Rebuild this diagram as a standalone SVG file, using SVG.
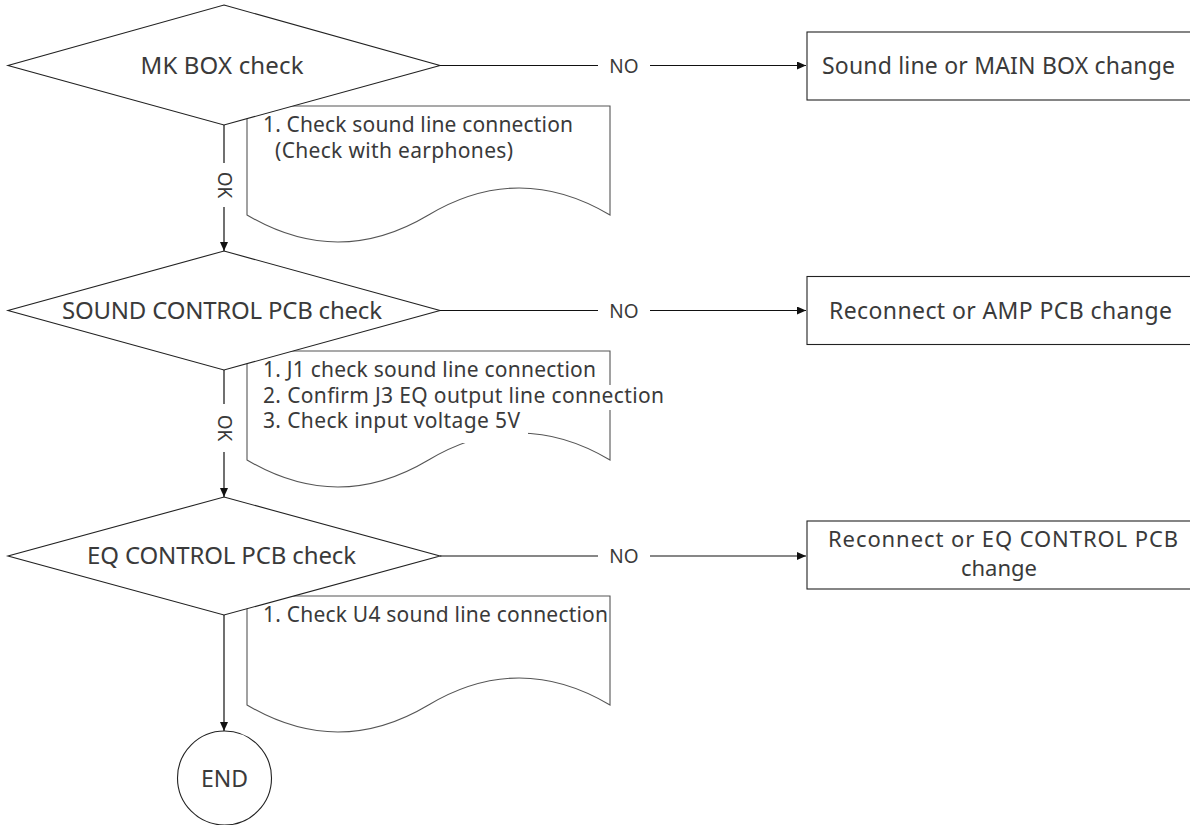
<svg xmlns="http://www.w3.org/2000/svg" width="1190" height="825" viewBox="0 0 1190 825">
<defs>
<marker id="arr" markerUnits="userSpaceOnUse" markerWidth="9" markerHeight="8" refX="9" refY="4" orient="auto">
<path d="M0,0 L9,4 L0,8 Z" fill="#111"/>
</marker>
<style>
.sh{fill:#fff;stroke:#222;stroke-width:1.1}
.doc{fill:#fff;stroke:#555;stroke-width:1.1}
.ln{fill:none;stroke:#111;stroke-width:1.2}
.bg{fill:#fff;stroke:none}
text{font-family:"Noto Sans","Open Sans",sans-serif;fill:#3a3a3a}
.dt{font-size:24px;text-anchor:middle}
.nt{font-size:21px}
.bt{font-size:23px;text-anchor:middle}
.lb{font-size:19px;text-anchor:middle}
</style>
</defs>

<g id="note1">
<path class="doc" d="M247,106 H610 V215 Q519,161 428.5,215 Q338,269 247,215 Z"/>
<text class="nt" x="263" y="132" textLength="310" lengthAdjust="spacing">1. Check sound line connection</text>
<text class="nt" x="275" y="157.5" textLength="238" lengthAdjust="spacing">(Check with earphones)</text>
</g>

<g id="note2">
<path class="doc" d="M247,351 H610 V460 Q519,406 428.5,460 Q338,514 247,460 Z"/>
<rect class="bg" x="262" y="385" width="404" height="25"/>
<rect class="bg" x="262" y="411" width="266" height="32"/>
<text class="nt" x="263" y="377" textLength="333" lengthAdjust="spacing">1. J1 check sound line connection</text>
<text class="nt" x="263" y="402.5" textLength="401" lengthAdjust="spacing">2. Confirm J3 EQ output line connection</text>
<text class="nt" x="263" y="428" textLength="257" lengthAdjust="spacing">3. Check input voltage 5V</text>
</g>

<g id="note3">
<path class="doc" d="M247,596 H610 V705 Q519,651 428.5,705 Q338,759 247,705 Z"/>
<text class="nt" x="263" y="622" textLength="345" lengthAdjust="spacing">1. Check U4 sound line connection</text>
</g>

<g id="mkbox">
<polygon class="sh" points="224,5 440,65.5 224,125 8,65.5"/>
<text class="dt" x="222" y="74" textLength="163" lengthAdjust="spacing">MK BOX check</text>
</g>

<g id="soundpcb">
<polygon class="sh" points="224,251 440,310.5 224,370 8,310.5"/>
<text class="dt" x="222" y="319" textLength="320" lengthAdjust="spacing">SOUND CONTROL PCB check</text>
</g>

<g id="eqpcb">
<polygon class="sh" points="224,497 440,556 224,615 8,556"/>
<text class="dt" x="221.5" y="564" textLength="269" lengthAdjust="spacing">EQ CONTROL PCB check</text>
</g>

<g id="box1">
<rect class="sh" x="807" y="32" width="390" height="68"/>
<text class="bt" x="998.5" y="74" textLength="353" lengthAdjust="spacing">Sound line or MAIN BOX change</text>
</g>

<g id="box2">
<rect class="sh" x="807" y="276.5" width="390" height="68"/>
<text class="bt" x="1000.5" y="318.5" textLength="343" lengthAdjust="spacing">Reconnect or AMP PCB change</text>
</g>

<g id="box3">
<rect class="sh" x="807" y="521" width="390" height="68"/>
<text class="bt" x="1003" y="546.5" textLength="350" lengthAdjust="spacing" style="font-size:22px">Reconnect or EQ CONTROL PCB</text>
<text class="bt" x="999" y="576" style="font-size:22px">change</text>
</g>

<g id="end">
<circle class="sh" cx="224.5" cy="778" r="47"/>
<text class="dt" x="224.5" y="787" style="font-size:23px">END</text>
</g>

<g id="connectors">
<path class="ln" d="M440,65.5 H806" marker-end="url(#arr)"/>
<rect class="bg" x="598" y="55" width="52" height="22"/>
<text class="lb" x="624" y="72.5">NO</text>

<path class="ln" d="M440,310.5 H806" marker-end="url(#arr)"/>
<rect class="bg" x="598" y="300" width="52" height="22"/>
<text class="lb" x="624" y="317.5">NO</text>

<path class="ln" d="M440,556 H806" marker-end="url(#arr)"/>
<rect class="bg" x="598" y="545" width="52" height="22"/>
<text class="lb" x="624" y="563">NO</text>

<path class="ln" d="M224,125 V251" marker-end="url(#arr)"/>
<rect class="bg" x="212" y="163" width="24" height="44"/>
<text class="lb" transform="translate(217.5,185) rotate(90)" x="0" y="0">OK</text>

<path class="ln" d="M224,370 V497" marker-end="url(#arr)"/>
<rect class="bg" x="212" y="404" width="24" height="48"/>
<text class="lb" transform="translate(217.5,428) rotate(90)" x="0" y="0">OK</text>

<path class="ln" d="M224,615 V731" marker-end="url(#arr)"/>
</g>
</svg>
